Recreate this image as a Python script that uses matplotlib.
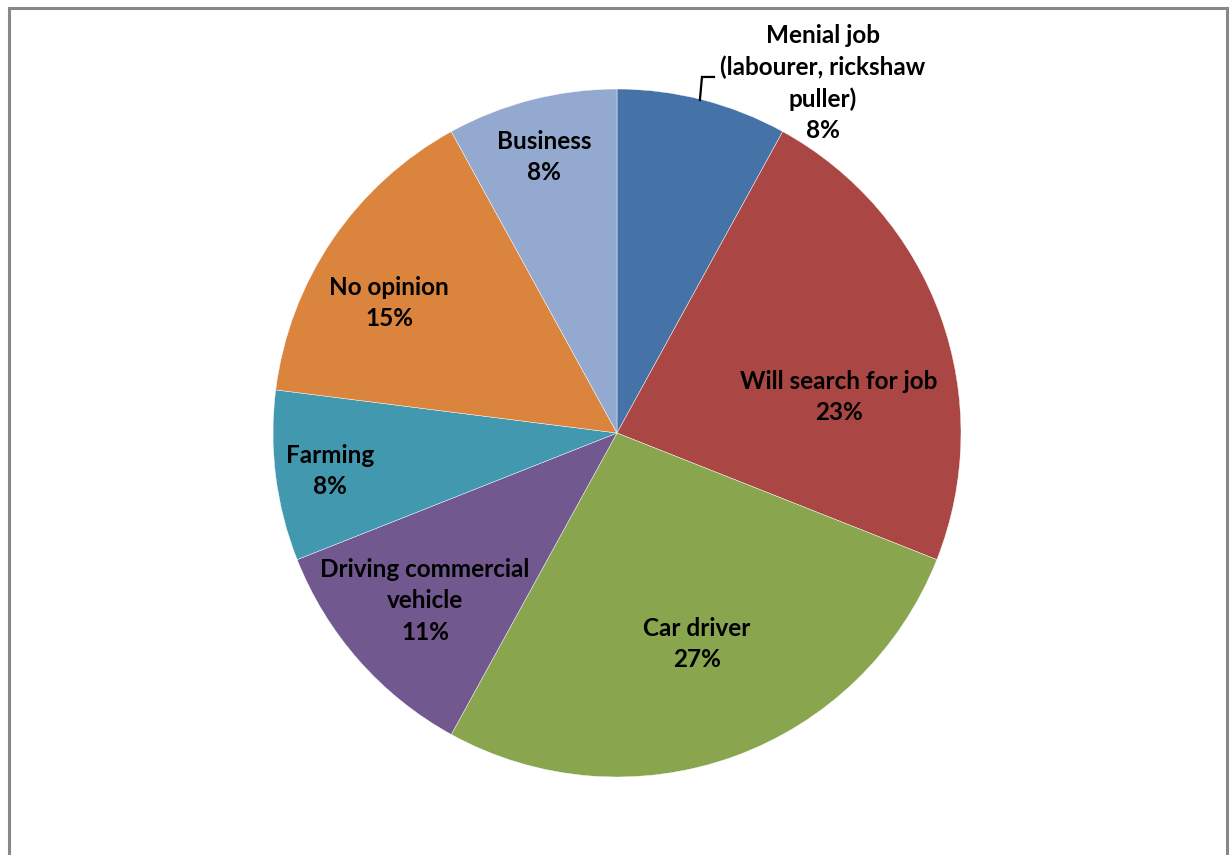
import matplotlib
matplotlib.use("Agg")
import matplotlib.pyplot as plt
from matplotlib.patches import Rectangle

categories = [
    "Menial job\n(labourer, rickshaw\npuller)",
    "Will search for job",
    "Car driver",
    "Driving commercial\nvehicle",
    "Farming",
    "No opinion",
    "Business",
]
shares = [8, 23, 27, 11, 8, 15, 8]
colors = ["#4572A7", "#AA4643", "#89A54E", "#71588F", "#4198AF", "#DB843D", "#93A9CF"]

# label anchor points, in units of the pie radius
label_xy = [
    (0.599, 1.017),
    (0.645, 0.105),
    (0.233, -0.613),
    (-0.558, -0.488),
    (-0.834, -0.110),
    (-0.663, 0.378),
    (-0.212, 0.802),
]

W, H = 1230, 855
fig = plt.figure(figsize=(W / 100, H / 100), dpi=100)
fig.patch.set_facecolor("white")

cx, cy, r = 617, 855 - 433, 344
ax = fig.add_axes([(cx - r) / W, (cy - r) / H, 2 * r / W, 2 * r / H])
ax.pie(shares, colors=colors, startangle=90, counterclock=False, radius=1,
       wedgeprops=dict(edgecolor="white", linewidth=0.3))
ax.set_xlim(-1, 1)
ax.set_ylim(-1, 1)
ax.set_aspect("equal")
ax.axis("off")

for name, val, (x, y) in zip(categories, shares, label_xy):
    ax.text(x, y, f"{name}\n{val}%", ha="center", va="center",
            fontsize=17.5, fontweight="bold", family="Lato", color="black",
            linespacing=1.43, clip_on=False)

# leader line for the top label
ax.plot([0.241, 0.247, 0.282], [0.968, 1.035, 1.035], color="black", lw=1.6,
        clip_on=False, solid_joinstyle="miter")

# chart area frame
fig.patches.append(Rectangle((8.5 / W, -0.05), 1218 / W, 1.05 - 8.5 / H,
                             transform=fig.transFigure, fill=False,
                             edgecolor="#888888", linewidth=2.2))

fig.savefig("out.png", dpi=100)
